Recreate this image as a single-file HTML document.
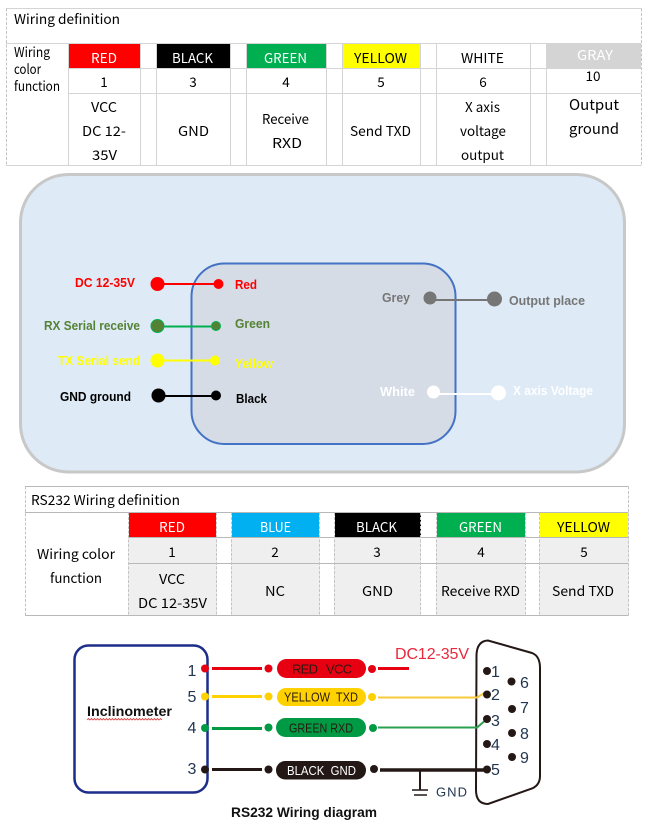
<!DOCTYPE html>
<html>
<head>
<meta charset="utf-8">
<style>
html,body{margin:0;padding:0;background:#fff;width:654px;height:827px;overflow:hidden}
svg{display:block}
text{white-space:pre}
.t{font-family:"Noto Sans CJK KR","Liberation Sans",sans-serif;font-size:13.500px;fill:#000}
.b{font-family:"Liberation Sans",sans-serif;font-size:13px;font-weight:bold}
.p{font-family:"Liberation Sans",sans-serif;font-size:13px;fill:#2a1a10}
.n{font-family:"Liberation Sans",sans-serif;font-size:16px;fill:#22364f}
.g{stroke:#d4d4d4;stroke-width:1;fill:none}
.d{stroke:#c4c4c4;stroke-width:1;fill:none;stroke-dasharray:3 1.5}
.h{stroke:#b8b8b8;stroke-width:1;fill:none}
</style>
</head>
<body>
<svg xmlns="http://www.w3.org/2000/svg" width="654" height="827" viewBox="0 0 654 827">
<rect width="654" height="827" fill="#fff"/>

<!-- TABLE 1 -->
<rect x="69" y="44" width="71" height="24" fill="#ff0000"/>
<rect x="157" y="44" width="73" height="24" fill="#000"/>
<rect x="247" y="44" width="79" height="24" fill="#00b050"/>
<rect x="343" y="44" width="77" height="24" fill="#ffff00"/>
<rect x="546" y="43" width="95" height="25" fill="#d4d4d4"/>
<path class="g" d="M6 8.500H641.500M6 43.500H641.500M68.500 68.500H641.500M68.500 93.500H641.500M6 165.500H641.500"/>
<path class="g" d="M68.500 43.500V165.500M140.500 43.500V165.500M156.500 43.500V165.500M230.500 43.500V165.500M246.500 43.500V165.500M326.500 43.500V165.500M342.500 43.500V165.500M420.500 43.500V165.500M436.500 43.500V165.500M530.500 43.500V165.500M546.500 43.500V165.500"/>
<path class="d" d="M6.500 8.500V165.500M641.500 8.500V165.500"/>

<text class="t" x="14" y="24" textLength="106" lengthAdjust="spacingAndGlyphs">Wiring definition</text>
<text class="t" x="14" y="57" textLength="36" lengthAdjust="spacingAndGlyphs">Wiring</text>
<text class="t" x="14" y="74" textLength="27" lengthAdjust="spacingAndGlyphs">color</text>
<text class="t" x="14" y="91" textLength="46" lengthAdjust="spacingAndGlyphs">function</text>

<text class="t" x="91" y="63" textLength="26" lengthAdjust="spacingAndGlyphs" style="fill:#fff">RED</text>
<text class="t" x="172" y="63" textLength="41" lengthAdjust="spacingAndGlyphs" style="fill:#fff">BLACK</text>
<text class="t" x="264" y="63" textLength="43" lengthAdjust="spacingAndGlyphs" style="fill:#fff">GREEN</text>
<text class="t" x="354" y="63" textLength="53" lengthAdjust="spacingAndGlyphs">YELLOW</text>
<text class="t" x="461" y="63" textLength="43" lengthAdjust="spacingAndGlyphs">WHITE</text>
<text class="t" x="577" y="60" textLength="36" lengthAdjust="spacingAndGlyphs" style="fill:#fff">GRAY</text>

<text class="t" x="104" y="87" text-anchor="middle">1</text>
<text class="t" x="193" y="87" text-anchor="middle">3</text>
<text class="t" x="286" y="87" text-anchor="middle">4</text>
<text class="t" x="381" y="87" text-anchor="middle">5</text>
<text class="t" x="483" y="87" text-anchor="middle">6</text>
<text class="t" x="593" y="81" text-anchor="middle">10</text>

<text class="t" x="91" y="112" textLength="26" lengthAdjust="spacingAndGlyphs">VCC</text>
<text class="t" x="82" y="136" textLength="44" lengthAdjust="spacingAndGlyphs">DC 12-</text>
<text class="t" x="92" y="160" textLength="25" lengthAdjust="spacingAndGlyphs">35V</text>
<text class="t" x="178" y="136" textLength="31" lengthAdjust="spacingAndGlyphs">GND</text>
<text class="t" x="262" y="124" textLength="47" lengthAdjust="spacingAndGlyphs">Receive</text>
<text class="t" x="272" y="148" textLength="30" lengthAdjust="spacingAndGlyphs">RXD</text>
<text class="t" x="350" y="136" textLength="61" lengthAdjust="spacingAndGlyphs">Send TXD</text>
<text class="t" x="465" y="112" textLength="35" lengthAdjust="spacingAndGlyphs">X axis</text>
<text class="t" x="460" y="136" textLength="46" lengthAdjust="spacingAndGlyphs">voltage</text>
<text class="t" x="461" y="160" textLength="43" lengthAdjust="spacingAndGlyphs">output</text>
<text class="t" x="569" y="110" textLength="50" lengthAdjust="spacingAndGlyphs" style="font-size:15px">Output</text>
<text class="t" x="569" y="134" textLength="50" lengthAdjust="spacingAndGlyphs" style="font-size:15px">ground</text>

<!-- DIAGRAM 2 -->
<rect x="20.500" y="174.500" width="604" height="297.500" rx="48" ry="48" fill="#deeaf6" stroke="#c8c8c8" stroke-width="3"/>
<rect x="191.500" y="263.500" width="264" height="180.500" rx="33" ry="33" fill="#d5dce6" stroke="#4472c4" stroke-width="2"/>

<line x1="157" y1="284" x2="218" y2="284" stroke="#ff0000" stroke-width="2"/>
<circle cx="157.500" cy="284" r="7" fill="#ff0000"/><circle cx="218.500" cy="284" r="5" fill="#ff0000"/>
<line x1="157" y1="326.500" x2="216" y2="326.500" stroke="#00b050" stroke-width="2"/>
<circle cx="157.500" cy="326" r="6.500" fill="#548235" stroke="#00b050" stroke-width="1"/><circle cx="216" cy="326" r="4.500" fill="#548235" stroke="#00b050" stroke-width="1"/>
<line x1="157" y1="360.500" x2="215" y2="360.500" stroke="#ffff00" stroke-width="2"/>
<circle cx="157.500" cy="360.500" r="7" fill="#ffff00"/><circle cx="215" cy="360.500" r="5" fill="#ffff00"/>
<line x1="158" y1="396" x2="216" y2="396" stroke="#000" stroke-width="2"/>
<circle cx="158.500" cy="395.500" r="7" fill="#000"/><circle cx="216" cy="395.500" r="5" fill="#000"/>
<line x1="430" y1="300" x2="494" y2="300" stroke="#767676" stroke-width="2"/>
<circle cx="430" cy="298" r="6.500" fill="#767676"/><circle cx="494.500" cy="299" r="7.500" fill="#767676"/>
<line x1="434" y1="394" x2="498" y2="394" stroke="#fff" stroke-width="2"/>
<circle cx="433.500" cy="392" r="6.500" fill="#fff"/><circle cx="498.500" cy="393" r="7.500" fill="#fff"/>

<text class="b" x="75" y="287" textLength="60" lengthAdjust="spacingAndGlyphs" fill="#ff0000">DC 12-35V</text>
<text class="b" x="44" y="330" textLength="96" lengthAdjust="spacingAndGlyphs" fill="#548235">RX Serial receive</text>
<text class="b" x="58" y="365" textLength="82" lengthAdjust="spacingAndGlyphs" fill="#ffff00">TX Serial send</text>
<text class="b" x="60" y="401" textLength="71" lengthAdjust="spacingAndGlyphs" fill="#000">GND ground</text>
<text class="b" x="235" y="289" textLength="22" lengthAdjust="spacingAndGlyphs" fill="#ff0000">Red</text>
<text class="b" x="235" y="328" textLength="35" lengthAdjust="spacingAndGlyphs" fill="#548235">Green</text>
<text class="b" x="235" y="368" textLength="38" lengthAdjust="spacingAndGlyphs" fill="#ffff00">Yellow</text>
<text class="b" x="236" y="403" textLength="31" lengthAdjust="spacingAndGlyphs" fill="#000">Black</text>
<text class="b" x="382" y="302" textLength="28" lengthAdjust="spacingAndGlyphs" fill="#767676">Grey</text>
<text class="b" x="509" y="305" textLength="76" lengthAdjust="spacingAndGlyphs" fill="#767676">Output place</text>
<text class="b" x="380" y="396" textLength="35" lengthAdjust="spacingAndGlyphs" fill="#fff">White</text>
<text class="b" x="513" y="395" textLength="80" lengthAdjust="spacingAndGlyphs" fill="#fff">X axis Voltage</text>

<!-- TABLE 3 -->
<rect x="128" y="538" width="89" height="78" fill="#efefef"/>
<rect x="231" y="538" width="89" height="78" fill="#efefef"/>
<rect x="334" y="538" width="87" height="78" fill="#efefef"/>
<rect x="436" y="538" width="89" height="78" fill="#efefef"/>
<rect x="539" y="538" width="90" height="78" fill="#efefef"/>
<rect x="129" y="513" width="87" height="24" fill="#ff0000"/>
<rect x="232" y="513" width="87" height="24" fill="#00b0f0"/>
<rect x="335" y="513" width="86" height="24" fill="#000"/>
<rect x="437" y="513" width="88" height="24" fill="#00b050"/>
<rect x="540" y="513" width="88" height="24" fill="#ffff00"/>
<path class="h" d="M25 486.500H628.500M25 512.500H628.500M128 537.500H628.500M128 563.500H628.500M25 615.500H628.500"/>
<path class="d" d="M25.500 486.500V615.500M128.500 512.500V615.500M216.500 512.500V615.500M231.500 512.500V615.500M319.500 512.500V615.500M334.500 512.500V615.500M420.500 512.500V615.500M436.500 512.500V615.500M525.500 512.500V615.500M539.500 512.500V615.500M628.500 486.500V615.500"/>

<text class="t" x="31" y="505" textLength="149" lengthAdjust="spacingAndGlyphs">RS232 Wiring definition</text>
<text class="t" x="37" y="559" textLength="78" lengthAdjust="spacingAndGlyphs">Wiring color</text>
<text class="t" x="50" y="583" textLength="52" lengthAdjust="spacingAndGlyphs">function</text>
<text class="t" x="159" y="532" textLength="26" lengthAdjust="spacingAndGlyphs" style="fill:#fff">RED</text>
<text class="t" x="260" y="532" textLength="31" lengthAdjust="spacingAndGlyphs" style="fill:#fff">BLUE</text>
<text class="t" x="356" y="532" textLength="41" lengthAdjust="spacingAndGlyphs" style="fill:#fff">BLACK</text>
<text class="t" x="459" y="532" textLength="43" lengthAdjust="spacingAndGlyphs" style="fill:#fff">GREEN</text>
<text class="t" x="557" y="532" textLength="53" lengthAdjust="spacingAndGlyphs">YELLOW</text>
<text class="t" x="172" y="557" text-anchor="middle">1</text>
<text class="t" x="275" y="557" text-anchor="middle">2</text>
<text class="t" x="377" y="557" text-anchor="middle">3</text>
<text class="t" x="481" y="557" text-anchor="middle">4</text>
<text class="t" x="584" y="557" text-anchor="middle">5</text>
<text class="t" x="159" y="584" textLength="26" lengthAdjust="spacingAndGlyphs">VCC</text>
<text class="t" x="138" y="608" textLength="69" lengthAdjust="spacingAndGlyphs">DC 12-35V</text>
<text class="t" x="265" y="596" textLength="20" lengthAdjust="spacingAndGlyphs">NC</text>
<text class="t" x="362" y="596" textLength="31" lengthAdjust="spacingAndGlyphs">GND</text>
<text class="t" x="441" y="596" textLength="79" lengthAdjust="spacingAndGlyphs">Receive RXD</text>
<text class="t" x="552" y="596" textLength="62" lengthAdjust="spacingAndGlyphs">Send TXD</text>

<!-- DIAGRAM 4 -->
<rect x="74.500" y="645.500" width="133" height="147" rx="14" ry="14" fill="#fff" stroke="#1d2d8a" stroke-width="2.500"/>
<text class="b" x="87" y="716" textLength="85" lengthAdjust="spacingAndGlyphs" style="font-size:14px" fill="#111">Inclinometer</text>
<path d="M87 720l1.500-1.500 1.500 1.500 1.500-1.500 1.500 1.500 1.500-1.500 1.500 1.500 1.500-1.500 1.500 1.500 1.500-1.500 1.500 1.500 1.500-1.500 1.500 1.500 1.500-1.500 1.500 1.500 1.500-1.500 1.500 1.500 1.500-1.500 1.500 1.500 1.500-1.500 1.500 1.500 1.500-1.500 1.500 1.500 1.500-1.500 1.500 1.500 1.500-1.500 1.500 1.500 1.500-1.500 1.500 1.500 1.500-1.500 1.500 1.500 1.500-1.500 1.500 1.500 1.500-1.500 1.500 1.500 1.500-1.500 1.500 1.500 1.500-1.500 1.500 1.500 1.500-1.500 1.500 1.500 1.500-1.500 1.500 1.500 1.500-1.500 1.500 1.500 1.500-1.500 1.500 1.500 1.500-1.500 1.500 1.500 1.500-1.500 1.500 1.500" fill="none" stroke="#d84040" stroke-width="0.800"/>

<text class="n" x="192" y="676" text-anchor="middle">1</text>
<text class="n" x="192" y="702" text-anchor="middle">5</text>
<text class="n" x="192" y="733" text-anchor="middle">4</text>
<text class="n" x="192" y="774" text-anchor="middle">3</text>

<!-- red -->
<circle cx="205" cy="668.500" r="4" fill="#e60012"/>
<line x1="212" y1="668.500" x2="262" y2="668.500" stroke="#e60012" stroke-width="3"/>
<circle cx="268.500" cy="668.500" r="4" fill="#e60012"/>
<rect x="277" y="659" width="89" height="19" rx="9.500" fill="#e60012"/>
<circle cx="372" cy="669" r="4" fill="#e60012"/>
<line x1="378" y1="668.500" x2="409" y2="668.500" stroke="#e60012" stroke-width="3"/>
<text class="p" x="292" y="673.500" textLength="60" lengthAdjust="spacing">RED   VCC</text>
<!-- yellow -->
<circle cx="205" cy="696.500" r="4" fill="#ffd100"/>
<line x1="212" y1="696.500" x2="262" y2="696.500" stroke="#ffd100" stroke-width="3"/>
<circle cx="268.500" cy="696.500" r="4" fill="#ffd100"/>
<rect x="277" y="688" width="89" height="18" rx="9" fill="#ffd100"/>
<circle cx="372" cy="697" r="4" fill="#ffd100"/>
<text class="p" x="284" y="701.500" textLength="74" lengthAdjust="spacingAndGlyphs">YELLOW  TXD</text>
<!-- green -->
<circle cx="205" cy="728" r="4" fill="#009944"/>
<line x1="212" y1="728.500" x2="262" y2="728.500" stroke="#009944" stroke-width="3"/>
<circle cx="268.500" cy="727.500" r="4" fill="#009944"/>
<rect x="276" y="718" width="90" height="19" rx="9.500" fill="#009944"/>
<circle cx="373" cy="728" r="4" fill="#009944"/>
<text class="p" x="289" y="732.500" textLength="64" lengthAdjust="spacingAndGlyphs">GREEN RXD</text>
<!-- black -->
<circle cx="205" cy="769.500" r="4" fill="#231815"/>
<line x1="212" y1="769.500" x2="262" y2="769.500" stroke="#231815" stroke-width="3"/>
<circle cx="268.500" cy="769.500" r="4" fill="#231815"/>
<rect x="276" y="761" width="90" height="18.500" rx="9.200" fill="#231815"/>
<circle cx="374" cy="769" r="4" fill="#231815"/>
<text class="p" x="287" y="775" textLength="69" lengthAdjust="spacingAndGlyphs" style="fill:#fff">BLACK  GND</text>

<!-- ground -->
<line x1="420" y1="770" x2="420" y2="790" stroke="#231815" stroke-width="2"/>
<line x1="412" y1="790" x2="428" y2="790" stroke="#231815" stroke-width="1.500"/>
<line x1="414" y1="795" x2="427" y2="795" stroke="#231815" stroke-width="1.500"/>
<text x="436" y="796.500" textLength="31" lengthAdjust="spacing" style="font-family:'Liberation Sans',sans-serif;font-size:13px;fill:#22364f">GND</text>

<text x="395" y="659" textLength="74" lengthAdjust="spacing" style="font-family:'Liberation Sans',sans-serif;font-size:16px;fill:#e8283c">DC12-35V</text>

<!-- connector -->
<path d="M476.500 655Q477 641 488 640.500L532 653Q540 656 540 668V776Q540 785 532 788.500L488 804Q476 804 476 790Z" fill="#fff" stroke="#231815" stroke-width="2"/>
<path d="M378 697.500H477L486 692" fill="none" stroke="#f7c93a" stroke-width="2"/>
<path d="M378 727.500H477L487 719" fill="none" stroke="#2aa050" stroke-width="2"/>
<line x1="380" y1="770" x2="487" y2="770" stroke="#231815" stroke-width="3.500"/>
<g fill="#231815">
<circle cx="487" cy="671" r="4"/>
<circle cx="487" cy="694.500" r="4"/>
<circle cx="487" cy="719" r="4"/>
<circle cx="487" cy="744" r="4"/>
<circle cx="487" cy="769.500" r="4"/>
<circle cx="511.500" cy="681.500" r="4"/>
<circle cx="512" cy="709" r="4"/>
<circle cx="512" cy="733" r="4"/>
<circle cx="512" cy="757" r="4"/>
</g>
<text class="n" x="491" y="677">1</text>
<text class="n" x="491" y="700">2</text>
<text class="n" x="491" y="726">3</text>
<text class="n" x="491" y="750">4</text>
<text class="n" x="491" y="775">5</text>
<text class="n" x="520" y="688">6</text>
<text class="n" x="520" y="713">7</text>
<text class="n" x="520" y="739">8</text>
<text class="n" x="520" y="763">9</text>

<text class="b" x="231" y="817" textLength="146" lengthAdjust="spacingAndGlyphs" style="font-size:14px" fill="#111">RS232 Wiring diagram</text>
</svg>
</body>
</html>
